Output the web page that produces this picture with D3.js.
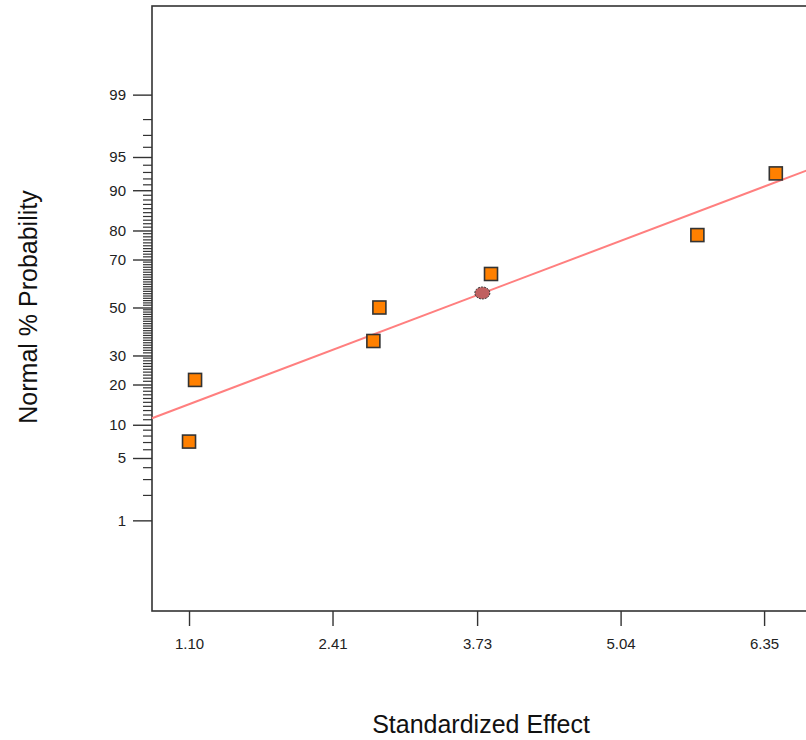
<!DOCTYPE html>
<html>

<head>
    <meta charset="UTF-8">
    <title>Normal Plot</title>
    <script src="https://cdnjs.cloudflare.com/ajax/libs/d3/7.8.5/d3.min.js"></script>
    <style>
        body { margin: 0; background: #fff; }
        text { font-family: Arial, "Liberation Sans", sans-serif; }
    </style>
</head>

<body>
    <script>
        // effects (standardized) and their normal % probability
        const effects = [1.10, 1.155, 2.783, 2.838, 3.857, 5.741, 6.457];
        const probs = [7.14, 21.43, 35.71, 50.0, 64.29, 78.57, 92.86];
        // the round marker sitting on the line
        const errEffect = [3.778];
        const errProb = [56.3];
        // fitted normal line: mean and sd of effects
        const lineMean = 3.434;
        const lineSd = 2.207;

        const xTicks = [1.10, 2.41, 3.73, 5.04, 6.35];
        const yTicks = [1, 5, 10, 20, 30, 50, 70, 80, 90, 95, 99];
        const yMinor = d3.range(2, 99);

        const width = 806, height = 740;
        const mLeft = 152, mTop = 6, mRight = 809, mBottom = 611;

        // inverse normal cdf (Acklam's approximation)
        function qnorm(p) {
            const a = [-3.969683028665376e+01, 2.209460984245205e+02, -2.759285104469687e+02, 1.383577518672690e+02, -3.066479806614716e+01, 2.506628277459239e+00];
            const b = [-5.447609879822406e+01, 1.615858368580409e+02, -1.556989798598866e+02, 6.680131188771011e+01, -1.328068155288572e+01];
            const c = [-7.784894002430293e-03, -3.223964580411365e-01, -2.400758277161838e+00, -2.549732539343734e+00, 4.374664141464968e+00, 2.938163982698783e+00];
            const d = [7.784695709041462e-03, 3.224671290700398e-01, 2.445134137142996e+00, 3.754408661907416e+00];
            const pl = 0.02425;
            let q, r;
            if (p < pl) {
                q = Math.sqrt(-2 * Math.log(p));
                return (((((c[0] * q + c[1]) * q + c[2]) * q + c[3]) * q + c[4]) * q + c[5]) / ((((d[0] * q + d[1]) * q + d[2]) * q + d[3]) * q + 1);
            }
            if (p > 1 - pl) {
                q = Math.sqrt(-2 * Math.log(1 - p));
                return -(((((c[0] * q + c[1]) * q + c[2]) * q + c[3]) * q + c[4]) * q + c[5]) / ((((d[0] * q + d[1]) * q + d[2]) * q + d[3]) * q + 1);
            }
            q = p - 0.5;
            r = q * q;
            return (((((a[0] * r + a[1]) * r + a[2]) * r + a[3]) * r + a[4]) * r + a[5]) * q / (((((b[0] * r + b[1]) * r + b[2]) * r + b[3]) * r + b[4]) * r + 1);
        }
        const probit = p => qnorm(p / 100);

        const x = d3.scaleLinear().domain([0.762, 6.76]).range([mLeft, mRight]);
        const zScale = d3.scaleLinear().domain([-3.317, 3.295]).range([mBottom, mTop]);
        const y = p => zScale(probit(p));

        const svg = d3.select('body')
            .append('svg')
            .attr('width', width)
            .attr('height', height);

        // frame
        svg.append('rect')
            .attr('x', mLeft)
            .attr('y', mTop)
            .attr('width', mRight - mLeft)
            .attr('height', mBottom - mTop)
            .attr('fill', 'none')
            .attr('stroke', '#333')
            .attr('stroke-width', 1.6);

        // x axis
        const xAxis = svg.append('g')
            .attr('transform', `translate(0,${mBottom})`)
            .call(d3.axisBottom(x).tickValues(xTicks).tickFormat(d3.format('.2f')).tickSize(15).tickPadding(12));
        xAxis.select('.domain').remove();
        xAxis.selectAll('line').attr('stroke', '#333').attr('stroke-width', 1.4);
        xAxis.selectAll('text')
            .attr('font-size', 15)
            .attr('font-family', 'Arial, "Liberation Sans", sans-serif')
            .attr('fill', '#222');

        // y minor ticks
        svg.append('g')
            .selectAll('line')
            .data(yMinor.filter(d => !yTicks.includes(d)))
            .join('line')
            .attr('x1', mLeft - 9)
            .attr('x2', mLeft)
            .attr('y1', d => y(d))
            .attr('y2', d => y(d))
            .attr('stroke', '#333')
            .attr('stroke-width', 1.2);

        // y major ticks
        const yAxis = svg.append('g')
            .attr('transform', `translate(${mLeft},0)`)
            .call(d3.axisLeft(zScale).tickValues(yTicks.map(probit)).tickFormat((d, i) => yTicks[i]).tickSize(19).tickPadding(7));
        yAxis.select('.domain').remove();
        yAxis.selectAll('line').attr('stroke', '#333').attr('stroke-width', 1.4);
        yAxis.selectAll('text')
            .attr('font-size', 15)
            .attr('font-family', 'Arial, "Liberation Sans", sans-serif')
            .attr('fill', '#222');

        // fitted line
        const xd = x.domain();
        svg.append('line')
            .attr('x1', x(xd[0]))
            .attr('y1', zScale((xd[0] - lineMean) / lineSd))
            .attr('x2', x(xd[1]))
            .attr('y2', zScale((xd[1] - lineMean) / lineSd))
            .attr('stroke', '#ff7f7f')
            .attr('stroke-width', 2);

        // error marker
        svg.append('g')
            .selectAll('ellipse')
            .data(errEffect)
            .join('ellipse')
            .attr('cx', d => x(d))
            .attr('cy', (d, i) => y(errProb[i]))
            .attr('rx', 7.5)
            .attr('ry', 6)
            .attr('fill', '#c06060')
            .attr('stroke', '#333')
            .attr('stroke-width', 1)
            .attr('stroke-dasharray', '2,1');

        // effect squares
        const s = 13;
        svg.append('g')
            .selectAll('rect')
            .data(effects)
            .join('rect')
            .attr('x', d => x(d) - s / 2)
            .attr('y', (d, i) => y(probs[i]) - s / 2)
            .attr('width', s)
            .attr('height', s)
            .attr('fill', '#ff8000')
            .attr('stroke', '#333')
            .attr('stroke-width', 1.6);

        // axis titles
        svg.append('text')
            .attr('x', 481)
            .attr('y', 733)
            .attr('text-anchor', 'middle')
            .attr('font-size', 25)
            .attr('fill', '#111')
            .text('Standardized Effect');

        svg.append('text')
            .attr('transform', 'translate(37,307) rotate(-90)')
            .attr('text-anchor', 'middle')
            .attr('font-size', 25)
            .attr('fill', '#111')
            .text('Normal % Probability');
    </script>
</body>

</html>
